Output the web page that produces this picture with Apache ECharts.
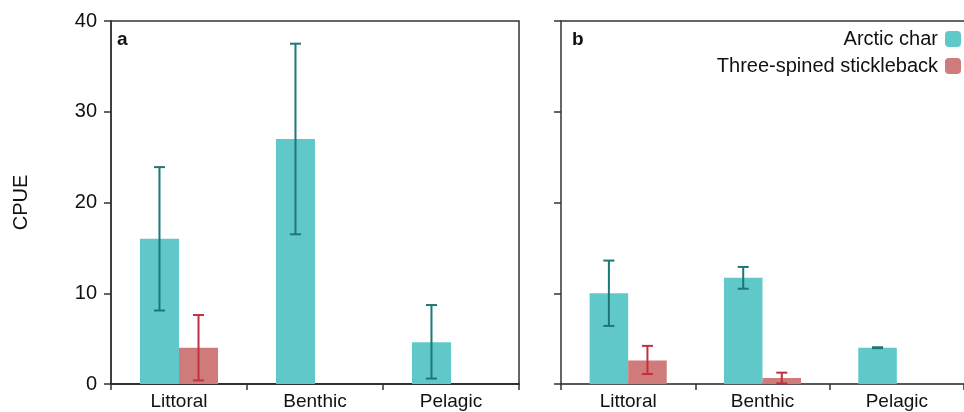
<!DOCTYPE html>
<html>
<head>
<meta charset="utf-8">
<script src="https://cdn.jsdelivr.net/npm/echarts@6/dist/echarts.min.js"></script>
<style>html,body{margin:0;padding:0;background:#fff}#c{width:964px;height:412px}</style>
</head>
<body>
<div id="c"></div>
<script>
const categories = ['Littoral', 'Benthic', 'Pelagic'];
const yTicks = [0, 10, 20, 30, 40];
// Panel a
const charA = [16.0, 27.0, 4.6];
const charALow = [8.1, 16.5, 0.6];
const charAHigh = [23.9, 37.5, 8.7];
const stickA = [4.0, 0, 0];
const stickALow = [0.4, null, null];
const stickAHigh = [7.6, null, null];
// Panel b
const charB = [10.0, 11.7, 4.0];
const charBLow = [6.4, 10.5, 3.95];
const charBHigh = [13.6, 12.9, 4.05];
const stickB = [2.6, 0.65, 0];
const stickBLow = [1.1, 0.07, null];
const stickBHigh = [4.2, 1.25, null];

const charColor = '#61C8CA', charErr = '#1E7676';
const stickColor = '#D07B7B', stickErr = '#C22F3E';
const BW = 0.287;
const FONT = 'Liberation Sans, Arial, sans-serif';

function errData(lo, hi) {
  const out = [];
  lo.forEach((l, i) => { if (l !== null && hi[i] !== null) out.push([i, l, hi[i]]); });
  return out;
}
function errSeries(name, lo, hi, color, sign, gi) {
  return {
    type: 'custom', name: name, xAxisIndex: gi, yAxisIndex: gi, z: 5,
    data: errData(lo, hi),
    renderItem: function (params, api) {
      const x = api.value(0);
      const pLo = api.coord([x, api.value(1)]);
      const pHi = api.coord([x, api.value(2)]);
      const band = api.size([1, 0])[0];
      const cx = pLo[0] + sign * band * BW / 2;
      const cap = 5.5;
      const st = { stroke: color, lineWidth: 2 };
      return { type: 'group', children: [
        { type: 'line', shape: { x1: cx, y1: pLo[1], x2: cx, y2: pHi[1] }, style: st },
        { type: 'line', shape: { x1: cx - cap, y1: pLo[1], x2: cx + cap, y2: pLo[1] }, style: st },
        { type: 'line', shape: { x1: cx - cap, y1: pHi[1], x2: cx + cap, y2: pHi[1] }, style: st }
      ]};
    }
  };
}
function xAx(gi) {
  return {
    type: 'category', gridIndex: gi, data: categories,
    axisLine: { lineStyle: { color: '#222', width: 1.5 } },
    axisTick: { show: true, length: 6, alignWithLabel: false, lineStyle: { color: '#333', width: 1.5 } },
    axisLabel: { fontSize: 19, color: '#111', margin: 8, fontFamily: FONT }
  };
}
function yAx(gi, showLabels) {
  return {
    type: 'value', gridIndex: gi, min: 0, max: 40, interval: 10,
    name: showLabels ? 'CPUE' : '', nameLocation: 'middle', nameRotate: 90, nameGap: 80,
    nameTextStyle: { fontSize: 20, color: '#111', fontFamily: FONT },
    axisLine: { show: true, lineStyle: { color: '#333', width: 1.5 } },
    axisTick: { show: true, length: 7, lineStyle: { color: '#333', width: 1.5 } },
    axisLabel: { show: showLabels, fontSize: 20, color: '#111', margin: 14, fontFamily: FONT,
      formatter: v => yTicks.includes(v) ? String(v) : '' },
    splitLine: { show: false }
  };
}
function barSeries(name, data, color, gi) {
  return { type: 'bar', name: name, xAxisIndex: gi, yAxisIndex: gi, data: data, barWidth: (BW * 100) + '%', barGap: '0%',
    itemStyle: { color: color }, silent: true };
}

const chart = echarts.init(document.getElementById('c'), null, { renderer: 'canvas' });
chart.setOption({
  animation: false,
  textStyle: { fontFamily: FONT },
  grid: [
    { left: 111, top: 21, width: 408, height: 363, show: true, borderColor: '#333', borderWidth: 1.5, backgroundColor: 'transparent' },
    { left: 561, top: 21, right: -5, height: 363, show: false }
  ],
  xAxis: [
    xAx(0), xAx(1),
    { type: 'category', gridIndex: 1, position: 'top', data: categories,
      axisLine: { show: true, lineStyle: { color: '#333', width: 1.5 } },
      axisTick: { show: false }, axisLabel: { show: false } }
  ],
  yAxis: [yAx(0, true), yAx(1, false)],
  legend: {
    data: ['Arctic char', 'Three-spined stickleback'],
    orient: 'vertical', align: 'right', right: 3, top: 29, padding: 0, itemWidth: 16, itemHeight: 16, itemGap: 7,
    textStyle: { fontSize: 20, color: '#111', fontFamily: FONT, padding: [0, 2, 0, 0] },
    selectedMode: false
  },
  graphic: [
    { type: 'text', left: 117, top: 30, style: { text: 'a', font: 'bold 19px Liberation Sans, Arial, sans-serif', fill: '#111' } },
    { type: 'text', left: 572, top: 30, style: { text: 'b', font: 'bold 19px Liberation Sans, Arial, sans-serif', fill: '#111' } }
  ],
  series: [
    barSeries('Arctic char', charA, charColor, 0),
    barSeries('Three-spined stickleback', stickA, stickColor, 0),
    barSeries('Arctic char', charB, charColor, 1),
    barSeries('Three-spined stickleback', stickB, stickColor, 1),
    errSeries('errCharA', charALow, charAHigh, charErr, -1, 0),
    errSeries('errStickA', stickALow, stickAHigh, stickErr, 1, 0),
    errSeries('errCharB', charBLow, charBHigh, charErr, -1, 1),
    errSeries('errStickB', stickBLow, stickBHigh, stickErr, 1, 1)
  ]
});
</script>
</body>
</html>
